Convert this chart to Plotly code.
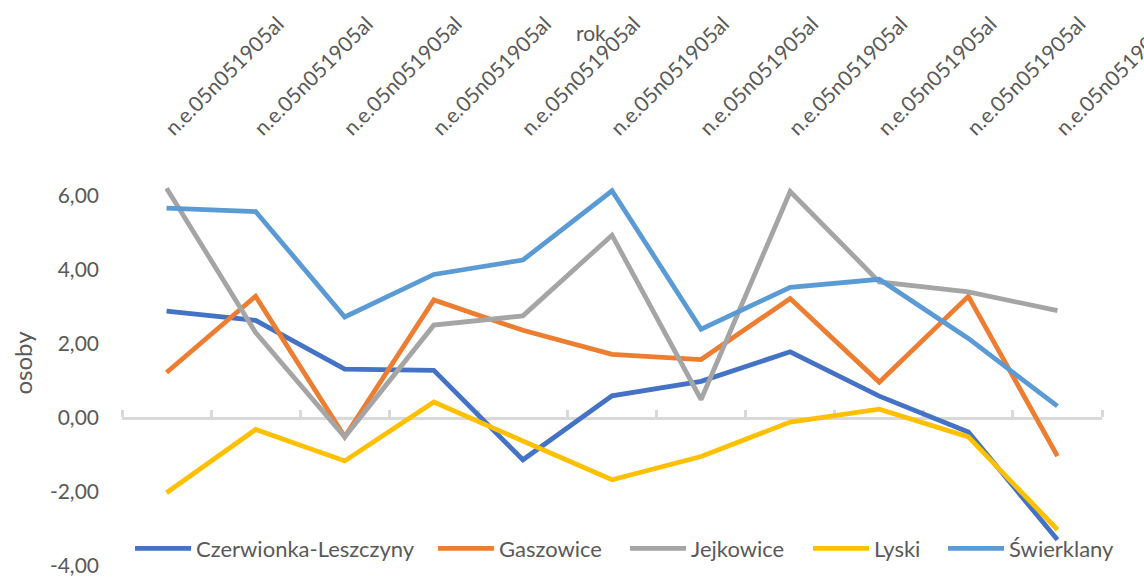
import plotly.graph_objects as go

categories = ["n.e.05n051905al", "n.e.05n051905al", "n.e.05n051905al", "n.e.05n051905al",
              "n.e.05n051905al", "n.e.05n051905al", "n.e.05n051905al", "n.e.05n051905al",
              "n.e.05n051905al", "n.e.05n051905al", "n.e.05n051905al"]

czerwionka = [2.89, 2.64, 1.32, 1.29, -1.13, 0.60, 0.99, 1.79, 0.59, -0.38, -3.29]
gaszowice = [1.23, 3.29, -0.51, 3.19, 2.37, 1.72, 1.58, 3.23, 0.97, 3.29, -1.03]
jejkowice = [6.21, 2.31, -0.51, 2.51, 2.76, 4.94, 0.50, 6.12, 3.68, 3.41, 2.90]
lyski = [-2.02, -0.31, -1.16, 0.43, -0.62, -1.67, -1.04, -0.11, 0.24, -0.51, -3.02]
swierklany = [5.67, 5.58, 2.73, 3.88, 4.27, 6.14, 2.40, 3.53, 3.75, 2.15, 0.32]

series_names = ["Czerwionka-Leszczyny", "Gaszowice", "Jejkowice", "Lyski", "Świerklany"]
series_values = [czerwionka, gaszowice, jejkowice, lyski, swierklany]
colors = ["#4472C4", "#ED7D31", "#A5A5A5", "#FFC000", "#5B9BD5"]
legend_x = [0.0082, 0.3173, 0.5133, 0.700, 0.8378]

y_ticks = [-4, -2, 0, 2, 4, 6]
y_ticktext = [f"{v:.2f}".replace(".", ",") for v in y_ticks]

x_idx = list(range(len(categories)))
boundaries = [i - 0.5 for i in range(len(categories) + 1)]

FONT = "Lato"
TXT = "#595959"

fig = go.Figure()
legend_layout = {}
for i, (name, vals, col, lx) in enumerate(zip(series_names, series_values, colors, legend_x)):
    lg = "legend" if i == 0 else f"legend{i + 1}"
    fig.add_trace(go.Scatter(x=x_idx, y=vals, name=name, mode="lines", legend=lg,
                             line=dict(color=col, width=4.8)))
    legend_layout[lg] = dict(orientation="h", x=lx, xanchor="left", y=0.043, yanchor="middle",
                             font=dict(family=FONT, size=22, color=TXT), itemwidth=56,
                             bgcolor="rgba(0,0,0,0)")

fig.update_layout(
    width=1144, height=578,
    margin=dict(l=122, r=42, t=159, b=12, autoexpand=False),
    paper_bgcolor="white", plot_bgcolor="white",
    font=dict(family=FONT, size=21, color=TXT),
    showlegend=True,
    xaxis=dict(side="top", range=[-0.5, len(categories) - 0.5], automargin=False,
               tickvals=x_idx, ticktext=categories, tickangle=-45,
               showline=False, showgrid=False, zeroline=False, ticks="",
               ticklabelstandoff=14, ticklabeloverflow="allow",
               tickfont=dict(family=FONT, size=21, color=TXT)),
    xaxis2=dict(overlaying="x", anchor="free", position=4 / 11, side="top", automargin=False,
                range=[-0.5, len(categories) - 0.5], tickvals=boundaries,
                showticklabels=False, ticks="outside", ticklen=7, tickwidth=3,
                tickcolor="#D9D9D9", showline=True, linecolor="#D9D9D9", linewidth=3,
                showgrid=False, zeroline=False, layer="below traces"),
    yaxis=dict(range=[-4, 7], tickvals=y_ticks, ticktext=y_ticktext, automargin=False,
               showgrid=False, zeroline=False, showline=False, ticks="",
               ticklabelstandoff=22,
               tickfont=dict(family=FONT, size=21, color=TXT)),
    annotations=[
        dict(text="rok", xref="paper", yref="paper", x=0.4786, y=1.312,
             xanchor="center", yanchor="middle", showarrow=False,
             font=dict(family=FONT, size=21, color=TXT)),
        dict(text="osoby", xref="paper", yref="paper", x=-0.102, y=0.5,
             xanchor="center", yanchor="middle", textangle=-90, showarrow=False,
             font=dict(family=FONT, size=24, color=TXT)),
    ],
    **legend_layout,
)
# invisible trace so xaxis2 is rendered
fig.add_trace(go.Scatter(x=[None], y=[None], xaxis="x2", showlegend=False, hoverinfo="skip"))

fig.write_html("out.html", config={"displayModeBar": False},
               post_script="document.body.style.margin='0';document.body.style.overflow='hidden';")
